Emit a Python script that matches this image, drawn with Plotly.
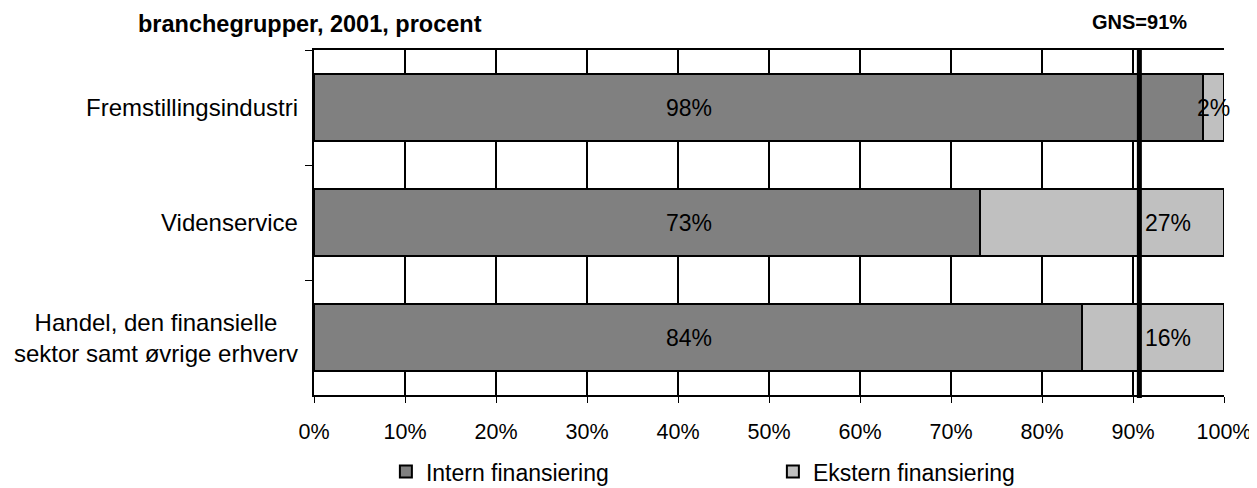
import plotly.graph_objects as go

categories = ["Fremstillingsindustri", "Videnservice", "Handel, den finansielle<br>sektor samt øvrige erhverv"]
intern = [97.7, 73.2, 84.4]
ekstern = [2.3, 26.8, 15.6]
intern_labels = ["98%", "73%", "84%"]
ekstern_labels = ["2%", "27%", "16%"]
tick_vals = [0, 10, 20, 30, 40, 50, 60, 70, 80, 90, 100]
tick_text = ["0%", "10%", "20%", "30%", "40%", "50%", "60%", "70%", "80%", "90%", "100%"]
gns_value = 90.7
gns_label = "GNS=91%"
title_text = "branchegrupper, 2001, procent"

# label placement (style)
intern_label_x = [41.2, 41.2, 41.2]
ekstern_label_x = [98.8, 93.9, 93.9]

FONT = "Liberation Sans, Arial, sans-serif"

fig = go.Figure()
fig.add_trace(go.Bar(
    y=categories, x=intern, name="Intern finansiering", orientation="h",
    marker=dict(color="#808080", line=dict(color="black", width=2)),
))
fig.add_trace(go.Bar(
    y=categories, x=ekstern, name="Ekstern finansiering", orientation="h",
    marker=dict(color="#C0C0C0", line=dict(color="black", width=2)),
))

for c, xv, t in zip(categories, intern_label_x, intern_labels):
    fig.add_annotation(x=xv, y=c, text=t, showarrow=False, xanchor="center",
                       font=dict(family=FONT, size=23, color="black"))
for c, xv, t in zip(categories, ekstern_label_x, ekstern_labels):
    fig.add_annotation(x=xv, y=c, text=t, showarrow=False, xanchor="center",
                       font=dict(family=FONT, size=23, color="black"))

# category labels (centered multi-line, right-anchored)
for c in categories:
    fig.add_annotation(x=0, y=c, xref="paper", yref="y", text=c, showarrow=False,
                       xanchor="right", yanchor="middle", align="center", xshift=-14,
                       font=dict(family=FONT, size=24, color="black"))

fig.add_shape(type="line", x0=gns_value, x1=gns_value, xref="x", yref="paper",
              y0=-0.009, y1=1, line=dict(color="black", width=5), layer="above")
fig.add_annotation(x=gns_value, y=1.081, xref="x", yref="paper", text="<b>" + gns_label + "</b>",
                   showarrow=False, xanchor="center", yanchor="middle",
                   font=dict(family=FONT, size=20, color="black"))
fig.add_annotation(x=-0.0044, y=1.075, xref="paper", yref="paper", text="<b>" + title_text + "</b>",
                   showarrow=False, xanchor="center", yanchor="middle",
                   font=dict(family=FONT, size=23.5, color="black"))

fig.update_layout(
    width=1249, height=480,
    margin=dict(l=306, r=33, t=42, b=93, autoexpand=False),
    barmode="stack", bargap=0.42,
    plot_bgcolor="white", paper_bgcolor="white",
    font=dict(family=FONT, size=21.5, color="black"),
    showlegend=True,
    legend=dict(orientation="h", x=0.079, y=-0.222, xanchor="left", yanchor="middle",
                entrywidth=342, entrywidthmode="pixels", traceorder="normal",
                font=dict(family=FONT, size=23, color="black"), itemwidth=30),
)
fig.update_xaxes(
    range=[0, 100], tickvals=tick_vals, ticktext=tick_text,
    showgrid=True, gridcolor="black", gridwidth=2,
    showline=True, linecolor="black", linewidth=2, mirror=True,
    ticks="outside", ticklen=6, tickcolor="black", tickwidth=1,
    ticklabelstandoff=10, automargin=False,
    zeroline=False, tickfont=dict(family=FONT, size=21.5, color="black"),
)
fig.update_yaxes(
    categoryorder="array", categoryarray=categories, autorange="reversed",
    showgrid=False, showline=True, linecolor="black", linewidth=2,
    ticks="outside", ticklen=7, tickcolor="black", tickwidth=1, tickson="boundaries",
    showticklabels=False, automargin=False,
)

fig.write_html("out.html")
